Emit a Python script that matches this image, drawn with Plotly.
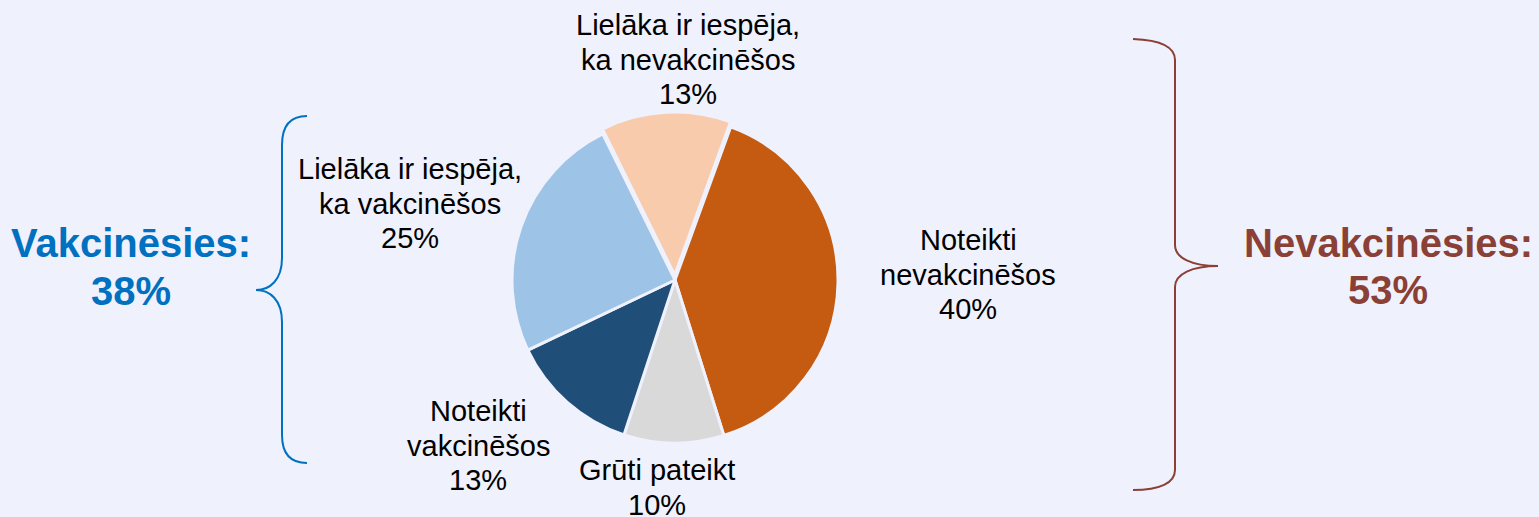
import plotly.graph_objects as go

# Survey answers, in clockwise order starting from the orange slice
categories = [
    "Noteikti nevakcinēšos",
    "Grūti pateikt",
    "Noteikti vakcinēšos",
    "Lielāka ir iespēja, ka vakcinēšos",
    "Lielāka ir iespēja, ka nevakcinēšos",
]
label_lines = [
    ["Noteikti", "nevakcinēšos"],
    ["Grūti pateikt"],
    ["Noteikti", "vakcinēšos"],
    ["Lielāka ir iespēja,", "ka vakcinēšos"],
    ["Lielāka ir iespēja,", "ka nevakcinēšos"],
]
values = [40, 10, 13, 25, 13]

# Grouped totals shown next to the braces
vaccinate_idx = [2, 3]
not_vaccinate_idx = [0, 4]
vaccinate_title = "Vakcinēsies:"
not_vaccinate_title = "Nevakcinēsies:"

# Styling
W, H = 1539, 517
BG = "#EFF1FD"
slice_colors = ["#C55A11", "#D9D9D9", "#1F4E79", "#9DC3E6", "#F8CBAD"]
pulls = [0, 0, 0, 0, 0.03]
BLUE = "#0070C0"
BROWN = "#8B4036"
FONT = "Liberation Sans, Arial, sans-serif"

# Pie placement in pixels
cx, cy, r = 675, 280, 163
half = r * (1 + max(pulls))

# Label anchors (pixel centre x, first-line centre y) and line step
label_pos = [(968, 240), (657, 470), (478, 411), (410, 169), (688, 25)]
line_step = 34.5

fig = go.Figure()
fig.add_trace(go.Pie(
    labels=categories,
    values=values,
    sort=False,
    direction="clockwise",
    rotation=20,
    pull=pulls,
    marker=dict(colors=slice_colors, line=dict(color=BG, width=3)),
    textinfo="none",
    hoverinfo="label+percent",
    showlegend=False,
    domain=dict(x=[(cx - half) / W, (cx + half) / W],
                y=[1 - (cy + half) / H, 1 - (cy - half) / H]),
))

annotations = []
for lines, v, (lx, ly) in zip(label_lines, values, label_pos):
    for i, txt in enumerate(lines + [f"{v}%"]):
        annotations.append(dict(
            x=lx, y=ly + i * line_step, xref="x", yref="y",
            text=txt, showarrow=False, xanchor="center", yanchor="middle",
            font=dict(family=FONT, size=29, color="#000000"),
        ))

vacc_total = sum(values[i] for i in vaccinate_idx)
not_vacc_total = sum(values[i] for i in not_vaccinate_idx)
for txt, x, y, col in [
    (vaccinate_title, 131, 243, BLUE),
    (f"{vacc_total}%", 131, 291, BLUE),
    (not_vaccinate_title, 1388, 243, BROWN),
    (f"{not_vacc_total}%", 1388, 290, BROWN),
]:
    annotations.append(dict(
        x=x, y=y, xref="x", yref="y", text=f"<b>{txt}</b>", showarrow=False,
        xanchor="center", yanchor="middle",
        font=dict(family=FONT, size=40, color=col),
    ))

# Curly braces
left_brace = ("M307,116 C292,116 282,124 282,145 L282,258 "
              "C282,280 270,290 256,290 C270,290 282,300 282,322 "
              "L282,435 C282,455 292,463 307,463")
right_brace = ("M1133,39 C1160,40 1175,47 1175,60 L1175,245 "
               "C1175,258 1192,266 1218,266 C1192,266 1175,274 1175,287 "
               "L1175,470 C1175,483 1160,490 1133,490")

shapes = [
    dict(type="path", path=left_brace, xref="x", yref="y",
         line=dict(color=BLUE, width=2)),
    dict(type="path", path=right_brace, xref="x", yref="y",
         line=dict(color=BROWN, width=2)),
]

fig.update_layout(
    width=W, height=H,
    margin=dict(l=0, r=0, t=0, b=0),
    paper_bgcolor=BG, plot_bgcolor=BG,
    xaxis=dict(range=[0, W], visible=False, fixedrange=True),
    yaxis=dict(range=[H, 0], visible=False, fixedrange=True),
    annotations=annotations,
    shapes=shapes,
    showlegend=False,
)

fig.write_html("out.html")
